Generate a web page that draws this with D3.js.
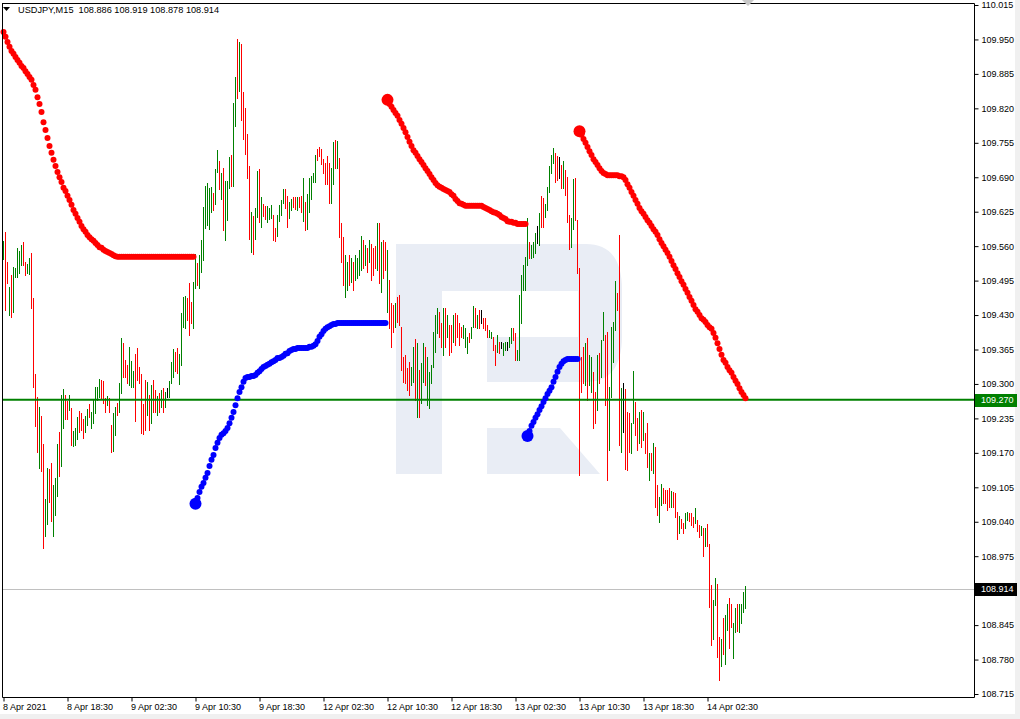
<!DOCTYPE html>
<html><head><meta charset="utf-8">
<script src="https://cdn.jsdelivr.net/npm/d3@7"></script>
<style>html,body{margin:0;padding:0;background:#f0f0f0;overflow:hidden}svg{display:block}</style>
</head><body>
<svg id="c" width="1020" height="719"></svg>
<script>
// ---------------- DATA ----------------
const symbol = "USDJPY,M15";
const headerOHLC = ["108.886", "108.919", "108.878", "108.914"];
const timeLabels = ["8 Apr 2021","8 Apr 18:30","9 Apr 02:30","9 Apr 10:30","9 Apr 18:30","12 Apr 02:30","12 Apr 10:30","12 Apr 18:30","13 Apr 02:30","13 Apr 10:30","13 Apr 18:30","14 Apr 02:30"];
const timeLabelBars = [0,32,64,96,128,160,192,224,256,288,320,352];
const priceTickLabels = ["110.015","109.950","109.885","109.820","109.755","109.690","109.625","109.560","109.495","109.430","109.365","109.300","109.235","109.170","109.105","109.040","108.975","108.910","108.845","108.780","108.715"];
const hLinePrice = 109.270;
const hLineLabel = "109.270";
const lastPrice = 108.914;
const lastPriceLabel = "108.914";

const highs = [
109.570,109.587,109.530,109.483,109.506,109.521,109.519,109.557,109.551,109.562,
109.568,109.530,109.526,109.538,109.547,109.462,109.319,109.275,109.257,109.240,
109.187,109.083,109.141,109.140,109.151,109.109,109.123,109.187,109.209,109.279,
109.290,109.279,109.268,109.279,109.255,109.211,109.217,109.238,109.249,109.245,
109.234,109.240,109.253,109.262,109.247,109.270,109.294,109.294,109.309,109.307,
109.306,109.273,109.277,109.273,109.223,109.245,109.257,109.264,109.302,109.387,
109.377,109.345,109.336,109.370,109.343,109.324,109.357,109.368,109.332,109.319,
109.262,109.307,109.304,109.279,109.298,109.307,109.289,109.277,109.283,109.289,
109.292,109.285,109.292,109.306,109.341,109.366,109.360,109.368,109.357,109.434,
109.464,109.466,109.462,109.490,109.455,109.492,109.545,109.528,109.543,109.572,
109.634,109.674,109.679,109.670,109.672,109.660,109.706,109.741,109.721,109.698,
109.707,109.683,109.683,109.728,109.732,109.830,109.879,109.951,109.945,109.941,
109.851,109.821,109.772,109.711,109.624,109.617,109.632,109.702,109.706,109.653,
109.640,109.636,109.636,109.632,109.638,109.619,109.594,109.619,109.638,109.647,
109.668,109.668,109.655,109.643,109.649,109.653,109.653,109.653,109.653,109.655,
109.689,109.643,109.658,109.689,109.692,109.698,109.732,109.743,109.747,109.743,
109.724,109.717,109.730,109.717,109.707,109.757,109.760,109.758,109.726,109.604,
109.577,109.543,109.530,109.543,109.538,109.530,109.543,109.538,109.553,109.579,
109.572,109.562,109.557,109.572,109.564,109.557,109.560,109.604,109.604,109.568,
109.572,109.568,109.553,109.496,109.453,109.449,109.453,109.464,109.468,109.407,
109.351,109.355,109.330,109.341,109.332,109.370,109.385,109.377,109.326,109.340,
109.377,109.370,109.351,109.323,109.336,109.398,109.430,109.443,109.436,109.415,
109.443,109.443,109.430,109.411,109.411,109.430,109.434,109.430,109.415,109.407,
109.411,109.405,109.389,109.396,109.407,109.447,109.443,109.430,109.440,109.440,
109.424,109.424,109.411,109.402,109.398,109.389,109.374,109.392,109.379,109.379,
109.377,109.379,109.379,109.389,109.405,109.405,109.396,109.364,109.468,109.506,
109.524,109.540,109.613,109.568,109.562,109.568,109.585,109.598,109.623,109.655,
109.651,109.640,109.672,109.711,109.732,109.745,109.736,109.730,109.728,109.713,
109.721,109.704,109.690,109.619,109.613,109.687,109.689,109.609,109.519,109.351,
109.370,109.377,109.387,109.355,109.351,109.323,109.285,109.355,109.358,109.383,
109.436,109.392,109.398,109.294,109.407,109.417,109.494,109.472,109.581,109.292,
109.302,109.290,109.247,109.245,109.226,109.324,109.266,109.236,109.247,109.251,
109.247,109.207,109.226,109.170,109.170,109.189,109.181,109.109,109.087,109.111,
109.104,109.100,109.100,109.104,109.098,109.096,109.094,109.058,109.051,109.045,
109.038,109.056,109.058,109.056,109.056,109.049,109.066,109.043,109.034,109.032,
109.028,109.028,109.036,108.998,108.921,108.892,108.934,108.923,108.823,108.819,
108.858,108.864,108.885,108.896,108.885,108.849,108.877,108.885,108.885,108.885,
108.907,108.919];

const lows = [
109.536,109.440,109.490,109.430,109.426,109.436,109.502,109.502,109.509,109.524,
109.524,109.506,109.509,109.508,109.443,109.294,109.221,109.172,109.141,109.136,
108.990,109.013,109.036,109.077,109.041,109.013,109.053,109.089,109.126,109.145,
109.217,109.234,109.234,109.251,109.185,109.183,109.185,109.196,109.209,109.213,
109.198,109.209,109.223,109.238,109.217,109.226,109.245,109.270,109.275,109.273,
109.264,109.247,109.260,109.247,109.172,109.173,109.204,109.241,109.247,109.283,
109.313,109.313,109.302,109.298,109.294,109.294,109.230,109.307,109.302,109.207,
109.206,109.213,109.241,109.213,109.226,109.247,109.247,109.241,109.247,109.257,
109.247,109.257,109.275,109.275,109.302,109.313,109.324,109.321,109.300,109.336,
109.407,109.405,109.421,109.392,109.415,109.405,109.481,109.487,109.481,109.511,
109.534,109.594,109.600,109.592,109.624,109.628,109.640,109.700,109.668,109.649,
109.590,109.572,109.609,109.670,109.674,109.674,109.787,109.840,109.853,109.798,
109.762,109.734,109.689,109.573,109.549,109.545,109.573,109.615,109.606,109.596,
109.617,109.611,109.606,109.611,109.613,109.572,109.570,109.579,109.607,109.619,
109.641,109.632,109.596,109.613,109.628,109.634,109.630,109.628,109.634,109.624,
109.607,109.590,109.592,109.624,109.649,109.681,109.681,109.723,109.730,109.715,
109.698,109.677,109.677,109.641,109.641,109.677,109.707,109.707,109.577,109.530,
109.487,109.464,109.477,109.487,109.492,109.477,109.496,109.500,109.506,109.515,
109.519,109.524,109.511,109.530,109.496,109.506,109.519,109.515,109.490,109.473,
109.500,109.515,109.436,109.405,109.370,109.398,109.407,109.417,109.411,109.326,
109.304,109.302,109.289,109.279,109.298,109.304,109.270,109.238,109.238,109.264,
109.304,109.298,109.260,109.255,109.302,109.332,109.360,109.396,109.389,109.370,
109.355,109.370,109.389,109.355,109.360,109.379,109.374,109.389,109.374,109.389,
109.387,109.370,109.358,109.379,109.387,109.407,109.407,109.405,109.405,109.415,
109.405,109.402,109.389,109.389,109.387,109.364,109.336,109.360,109.358,109.368,
109.355,109.364,109.364,109.370,109.377,109.383,109.345,109.345,109.345,109.415,
109.477,109.477,109.524,109.538,109.538,109.540,109.547,109.566,109.562,109.596,
109.596,109.615,109.628,109.662,109.698,109.717,109.681,109.685,109.689,109.670,
109.670,109.657,109.606,109.555,109.558,109.592,109.609,109.509,109.128,109.285,
109.302,109.298,109.270,109.298,109.285,109.217,109.226,109.251,109.302,109.313,
109.383,109.260,109.119,109.175,109.275,109.341,109.402,109.440,109.185,109.172,
109.209,109.140,109.138,109.172,109.170,109.226,109.204,109.175,109.189,109.181,
109.194,109.170,109.143,109.119,109.138,109.132,109.068,109.053,109.040,109.072,
109.075,109.075,109.062,109.068,109.068,109.068,109.049,109.007,109.019,109.028,
109.019,109.028,109.043,109.041,109.034,109.030,109.038,109.023,109.011,109.015,
108.975,108.994,108.994,108.879,108.808,108.819,108.883,108.785,108.741,108.768,
108.791,108.772,108.836,108.802,108.841,108.783,108.832,108.834,108.832,108.849,
108.870,108.877];

// bar direction: u = up (close > open), d = down, n = unchanged
const barDirection = ("uddud uuuuu dduud dddud duudd uuudu uddud uuudd duudu uuuud " +
  "ddudd uuduu ddduu udddd ddudu ddudu dunuu udduu uuddd uuduu " +
  "uuuuu duudu duuud uudud ddddu duudu dduuu dduuu udduu ddudd " +
  "uduuu uuddd ddddu ududd duudu duuuu dudud ddudu ddudd duddd " +
  "ddddu ududu uduuu uuudd ududd udddd uuudu ududn ddduu ddudn " +
  "uunuu dduuu uuudu uunud duuuu uddnd udddu udddd duduu ddudu " +
  "udduu uuddu ndddu uddud uddud udduu ddddu dddud duudd duddu " +
  "duddd uuddu duudd uuduu uu").replace(/ /g, "").split("");

// trailing stop / trend indicator value for every bar
const indicator = [
109.964,109.955,109.945,109.936,109.928,109.923,109.917,109.911,109.906,109.900,
109.896,109.890,109.885,109.879,109.874,109.864,109.855,109.841,109.828,109.813,
109.794,109.779,109.764,109.749,109.736,109.723,109.711,109.700,109.690,109.681,
109.670,109.664,109.655,109.647,109.638,109.628,109.621,109.613,109.606,109.598,
109.592,109.587,109.581,109.577,109.573,109.570,109.566,109.562,109.558,109.557,
109.553,109.551,109.549,109.547,109.545,109.543,109.541,109.540,109.540,109.540,
109.540,109.540,109.540,109.540,109.540,109.540,109.540,109.540,109.540,109.540,
109.540,109.540,109.540,109.540,109.540,109.540,109.540,109.540,109.540,109.540,
109.540,109.540,109.540,109.540,109.540,109.540,109.540,109.540,109.540,109.540,
109.540,109.540,109.540,109.540,109.540,109.540,109.074,109.085,109.096,109.106,
109.113,109.123,109.132,109.145,109.157,109.166,109.179,109.189,109.198,109.204,
109.207,109.211,109.217,109.226,109.236,109.247,109.260,109.273,109.285,109.294,
109.304,109.311,109.313,109.313,109.315,109.315,109.317,109.321,109.324,109.328,
109.332,109.334,109.336,109.338,109.341,109.343,109.345,109.349,109.349,109.351,
109.353,109.357,109.358,109.362,109.364,109.366,109.366,109.368,109.368,109.368,
109.368,109.368,109.368,109.370,109.370,109.372,109.375,109.381,109.389,109.394,
109.400,109.404,109.407,109.409,109.411,109.413,109.413,109.415,109.415,109.415,
109.415,109.415,109.415,109.415,109.415,109.415,109.415,109.415,109.415,109.415,
109.415,109.415,109.415,109.415,109.415,109.415,109.415,109.415,109.415,109.415,
109.415,109.415,109.836,109.828,109.823,109.817,109.811,109.806,109.798,109.791,
109.783,109.775,109.766,109.757,109.749,109.741,109.736,109.730,109.724,109.719,
109.713,109.707,109.702,109.696,109.690,109.685,109.679,109.675,109.672,109.670,
109.668,109.666,109.664,109.662,109.658,109.655,109.649,109.645,109.641,109.640,
109.638,109.636,109.636,109.636,109.636,109.636,109.636,109.636,109.636,109.636,
109.634,109.632,109.630,109.628,109.626,109.624,109.623,109.621,109.619,109.615,
109.613,109.611,109.607,109.606,109.606,109.604,109.604,109.602,109.602,109.602,
109.602,109.602,109.202,109.211,109.221,109.228,109.236,109.243,109.251,109.258,
109.266,109.273,109.281,109.287,109.294,109.304,109.313,109.323,109.332,109.338,
109.343,109.345,109.347,109.347,109.347,109.347,109.347,109.347,109.777,109.770,
109.762,109.755,109.747,109.739,109.732,109.724,109.719,109.713,109.707,109.702,
109.698,109.696,109.694,109.694,109.694,109.694,109.694,109.694,109.692,109.692,
109.690,109.685,109.677,109.670,109.662,109.655,109.647,109.640,109.632,109.626,
109.621,109.615,109.609,109.604,109.598,109.592,109.587,109.581,109.573,109.566,
109.560,109.553,109.547,109.540,109.532,109.524,109.517,109.509,109.502,109.494,
109.487,109.479,109.472,109.464,109.457,109.449,109.441,109.436,109.430,109.424,
109.421,109.417,109.411,109.407,109.404,109.396,109.387,109.377,109.366,109.355,
109.345,109.340,109.332,109.326,109.321,109.313,109.306,109.300,109.292,109.285,
109.279,109.273];

// indicator runs: [first bar, last bar, trend]
const trendRuns = [[0,95,"down"],[96,191,"up"],[192,261,"down"],[262,287,"up"],[288,371,"down"]];

// ---------------- DRAW ----------------
const svg = d3.select("#c");
const FONT = "'Liberation Sans', Arial, sans-serif";
const P = {left:2, right:974, top:3, bottom:697};

svg.append("rect").attr("x",0).attr("y",0).attr("width",1015).attr("height",714).attr("fill","#ffffff");

const y = d3.scaleLinear().domain([108.715, 110.015]).range([694, 5]);
const x = d3.scaleLinear().domain([0, 371]).range([3, 745]);

// watermark logo
const wm = svg.append("g").attr("fill","#e9edf5");
wm.append("path").attr("d",
  "M396,244 L586,244 Q622,244 622,290 L622,336 Q622,382 586,382 L487,382 L487,337 L578,337 L578,291 L442,291 L442,474 L396,474 Z");
wm.append("path").attr("d","M487,428 L560,428 L600,474 L487,474 Z");

const g = svg.append("g");

// last price line (behind bars)
g.append("line").attr("x1",P.left).attr("x2",P.right)
  .attr("y1",Math.round(y(lastPrice))+0.5).attr("y2",Math.round(y(lastPrice))+0.5)
  .attr("stroke","#c0c0c0").attr("stroke-width",1);

// bars
const colorOf = d => d === "u" ? "#008000" : d === "d" ? "#ff0000" : "#000000";
g.append("g").selectAll("rect").data(highs).join("rect")
  .attr("x", (d,i) => Math.round(x(i)))
  .attr("y", (d,i) => Math.round(y(highs[i])))
  .attr("width", 1)
  .attr("height", (d,i) => Math.max(1, Math.round(y(lows[i])) - Math.round(y(highs[i])) + 1))
  .attr("fill", (d,i) => colorOf(barDirection[i]));

// horizontal line
g.append("line").attr("x1",P.left).attr("x2",P.right)
  .attr("y1",y(hLinePrice)).attr("y2",y(hLinePrice))
  .attr("stroke","#008000").attr("stroke-width",2);

// indicator dots
const trendColor = {down:"#ff0000", up:"#0000ff"};
const dots = g.append("g");
trendRuns.forEach(([a,b,t]) => {
  const idx = d3.range(a, b+1);
  dots.append("g").selectAll("circle").data(idx).join("circle")
    .attr("cx", i => x(i)+0.5).attr("cy", i => y(indicator[i])).attr("r", 3)
    .attr("fill", trendColor[t]);
  if (a > 0) {
    dots.append("circle").attr("cx", x(a)+0.5).attr("cy", y(indicator[a])).attr("r", 6)
      .attr("fill", trendColor[t]);
  }
});

// frame
svg.append("path").attr("d",`M${P.left+0.5},${P.top} L${P.left+0.5},${P.bottom+0.5} L${P.right+0.5},${P.bottom+0.5} L${P.right+0.5},${P.top+0.5} L${P.left},${P.top+0.5}`)
  .attr("fill","none").attr("stroke","#000").attr("stroke-width",1);

// right price axis
const yAxis = d3.axisRight(y).tickValues(priceTickLabels.map(Number))
  .tickFormat((d,i) => priceTickLabels[i]).tickSize(4).tickPadding(3);
const ya = svg.append("g").attr("transform",`translate(${P.right+0.5},0)`).call(yAxis);
ya.select(".domain").remove();
ya.selectAll("line").attr("stroke","#000");
ya.selectAll("text").attr("font-family",FONT).attr("font-size","9px").attr("fill","#000");

// bottom time axis
const xAxis = d3.axisBottom(x).tickValues(timeLabelBars)
  .tickFormat((d,i) => timeLabels[i]).tickSize(4).tickPadding(2);
const xa = svg.append("g").attr("transform",`translate(0.5,${P.bottom+0.5})`).call(xAxis);
xa.select(".domain").remove();
xa.selectAll("line").attr("stroke","#000");
xa.selectAll("text").attr("font-family",FONT).attr("font-size","9px").attr("fill","#000")
  .attr("text-anchor","start").attr("dx","-1");

// axis labels for hline / last price
function priceTag(price, label, bg) {
  const yy = Math.round(y(price));
  svg.append("rect").attr("x",P.right+1).attr("y",yy-6).attr("width",42).attr("height",13).attr("fill",bg);
  svg.append("text").attr("x",P.right+7).attr("y",yy).attr("dy","0.35em")
    .attr("font-family",FONT).attr("font-size","9px").attr("fill","#ffffff").text(label);
}
priceTag(hLinePrice, hLineLabel, "#008000");
priceTag(lastPrice, lastPriceLabel, "#000000");

// header
svg.append("path").attr("d","M3,7 L10,7 L6.5,11 Z").attr("fill","#000");
svg.append("text").attr("x",18).attr("y",13).attr("font-family",FONT).attr("font-size","9.2px").attr("fill","#000")
  .style("white-space","pre")
  .text(symbol + "  " + headerOHLC.join(" "));

// shift marker
svg.append("path").attr("d","M742,0 L754,0 L748,6 Z").attr("fill","#c8c8c8");
</script>
</body></html>
